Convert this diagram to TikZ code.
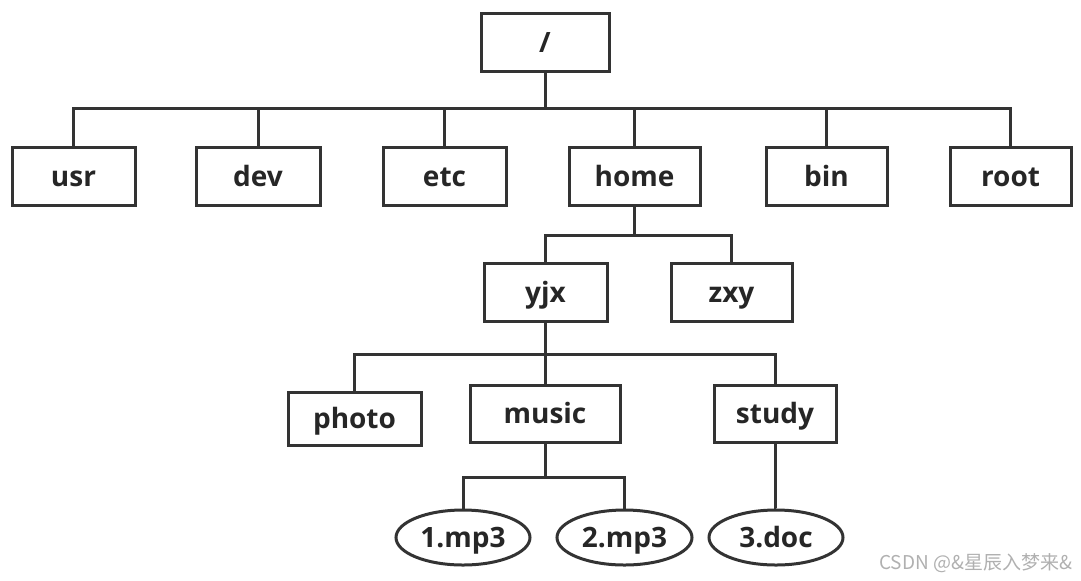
\documentclass[tikz,border=0pt]{standalone}
\usepackage{fontspec}
\setmainfont{Open Sans}
\newfontfamily\cjk{Noto Sans CJK SC}
\usepackage{xcolor}
\usetikzlibrary{positioning,shapes.geometric}
\definecolor{ink}{HTML}{333333}
\definecolor{mark}{HTML}{B0B0B0}

\begin{document}
\begin{tikzpicture}[
      x=0.5pt, y=-0.5pt,
      font=\fontsize{14}{17}\selectfont\bfseries,
      box/.style={draw=ink, line width=1.5pt, inner sep=0pt, text height=12pt, text depth=2pt, minimum width=61.5pt, minimum height=29pt, text=black!85},
      file/.style={ellipse, draw=ink, line width=1.5pt, inner sep=0pt, text height=12pt, text depth=2pt, minimum width=67pt, minimum height=27.5pt, text=black!85},
      link/.style={draw=ink, line width=1.5pt}]
    \useasboundingbox (0,0) rectangle (1081,580);
    % top level
    \node[box, minimum width=64pt] (slash) at (545,42) {/};
    \node[box] (usr) at (73.5,176) {usr};
    \node[box, minimum width=62pt] (dev) at (258,176) {dev};
    \node[box] (etc) at (444.5,176) {etc};
    \node[box, minimum width=65.5pt] (home) at (634.5,176) {home};
    \node[box, minimum width=60.5pt] (bin) at (826.5,176) {bin};
    \node[box, minimum width=60.5pt] (root) at (1010.5,176) {root};
    % home
    \node[box] (yjx) at (545.5,292) {yjx};
    \node[box, minimum width=60.5pt] (zxy) at (731.5,292) {zxy};
    % yjx
    \node[box, minimum width=66.5pt, minimum height=26.5pt] (photo) at (354.5,418.5) {photo};
    \node[box, minimum width=75pt, minimum height=28.5pt] (music) at (545,413.5) {music};
    \node[box, minimum width=61pt, minimum height=28.5pt] (study) at (775,413.5) {study};
    % files
    \node[file] (mpone) at (463,537.5) {1.mp3};
    \node[file, minimum width=67.5pt] (mptwo) at (624.5,537.5) {2.mp3};
    \node[file] (doc) at (776,537.5) {3.doc};
    % bus lines
    \coordinate (bus1) at (545,108);
    \coordinate (bus2) at (635,235);
    \coordinate (bus3) at (545,354);
    \coordinate (bus4) at (545,477);
    \foreach \child in {usr,dev,etc,home,bin,root}
      \draw[link] (slash.south) -- (slash.south |- bus1) -| (\child.north);
    \foreach \child in {yjx,zxy}
      \draw[link] (home.south) -- (home.south |- bus2) -| (\child.north);
    \foreach \child in {photo,music,study}
      \draw[link] (yjx.south) -- (yjx.south |- bus3) -| (\child.north);
    \foreach \child in {mpone,mptwo}
      \draw[link] (music.south) -- (music.south |- bus4) -| (\child.north);
    \draw[link] (study.south) -- (study.south |- doc.north) -- (doc.north);
    \node[anchor=east, font=\cjk\fontsize{9.5}{11}\selectfont, text=mark] (wm) at (1079,563) {CSDN @\&星辰入梦来\&};
  \end{tikzpicture}
\end{document}
